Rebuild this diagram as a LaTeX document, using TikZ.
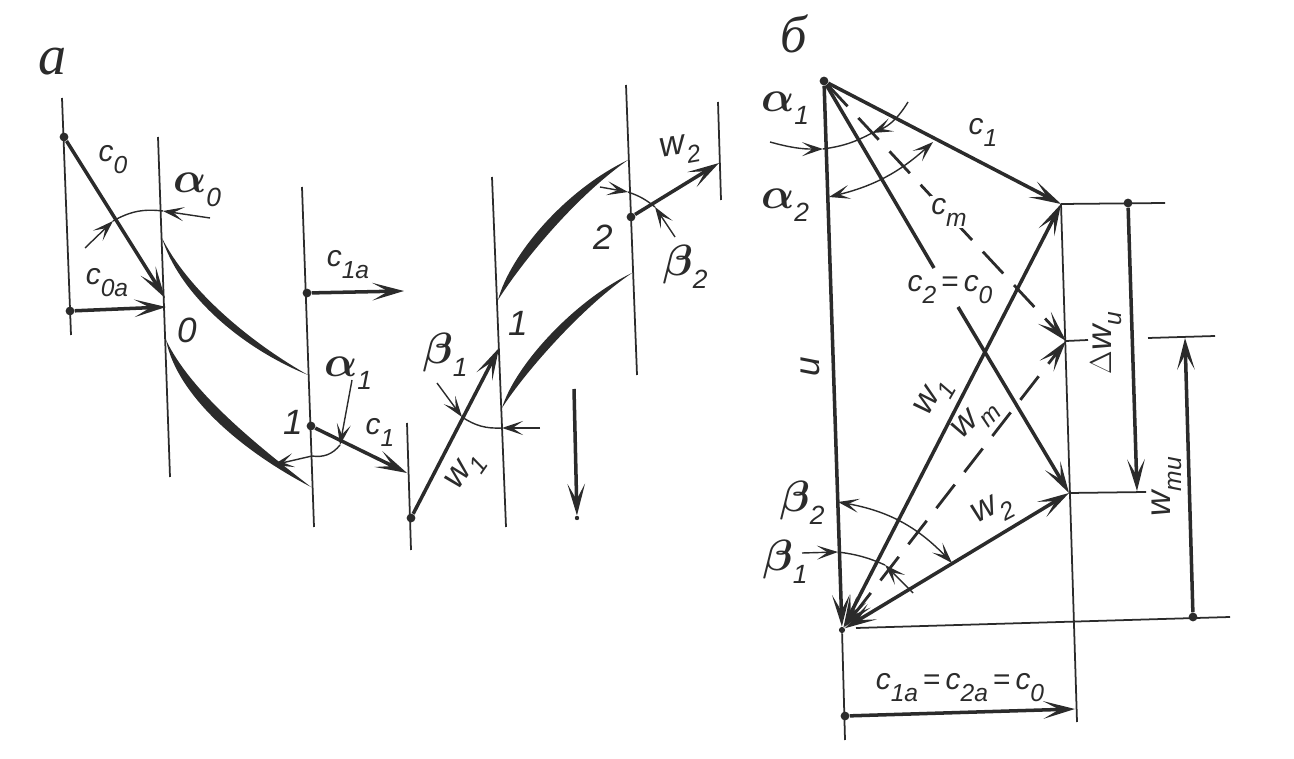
\documentclass[tikz,border=0pt]{standalone}
\usepackage{amsmath}
\usepackage{fontspec}
\setmainfont{Liberation Sans}
\newfontfamily\capfont{Liberation Serif}
\usetikzlibrary{arrows.meta}
\definecolor{ink}{HTML}{2B2B2B}
\newcommand{\lbl}[2]{{\itshape #1\raisebox{-.4em}{\fontsize{14}{14}\selectfont\itshape #2}}}
\newcommand{\lblw}[2]{{\fontsize{20}{20}\selectfont\itshape #1\raisebox{-.3em}{\fontsize{14}{14}\selectfont\itshape #2}}}
\newcommand{\grk}[2]{{\fontsize{25}{25}\selectfont$\boldsymbol{#1}$\raisebox{-.3em}{\fontsize{15}{15}\selectfont\itshape #2}}}
\tikzset{
  plane/.style={line width=1pt},
  vec/.style={->,line width=2pt},
  twovec/.style={<->,line width=2pt},
  dashvec/.style={->,line width=1.6pt,dash pattern=on 17pt off 9pt},
  angarc/.style={line width=.8pt,>={Stealth[length=12pt,width=8pt,inset=6pt]}},
  dotpt/.style={circle,fill=ink,inner sep=0pt,minimum size=5pt},
  txt/.style={inner sep=1pt,font=\fontsize{17}{19}\selectfont},
  num/.style={inner sep=1pt,font=\fontsize{20}{20}\selectfont\itshape},
  blade/.style={fill=ink}
}
\begin{document}
\begin{tikzpicture}[x=0.02cm,y=-0.02cm,color=ink,>={Stealth[length=18pt,width=10pt,inset=9pt]},shorten >=0pt]
\useasboundingbox (0,0) rectangle (1294,759);

\coordinate (p0t) at (62,98);   \coordinate (p0b) at (71,335);
\coordinate (p1t) at (158,137); \coordinate (p1b) at (170,477);
\coordinate (p2t) at (302,187); \coordinate (p2b) at (314,527);
\coordinate (p3t) at (407,423); \coordinate (p3b) at (411,550);
\coordinate (p4t) at (492,177); \coordinate (p4b) at (506,527);
\coordinate (p5t) at (626,85);  \coordinate (p5b) at (637,375);
\coordinate (p6t) at (718,102); \coordinate (p6b) at (721,200);

\node[dotpt] (c0s)  at (64,137)  {};
\node[dotpt] (c0as) at (70,311)  {};
\node[dotpt] (c1as) at (307,293) {};
\node[dotpt] (c1s)  at (311,426) {};
\node[dotpt] (w1s)  at (411,518) {};
\node[dotpt] (w2s)  at (631,217) {};
\coordinate (c0e)  at (165,298);
\coordinate (c0ae) at (166,307);
\coordinate (c1ae) at (404,291);
\coordinate (c1e)  at (407,473);
\coordinate (w1e)  at (499,348);
\coordinate (w2e)  at (719,163);
\coordinate (rots) at (574,389);
\node[dotpt,minimum size=2.5pt] (rote) at (577,518) {};

\path[plane] (p0t) edge (p0b) (p1t) edge (p1b) (p2t) edge (p2b) (p3t) edge (p3b)
(p4t) edge (p4b) (p5t) edge (p5b) (p6t) edge (p6b);
\path[vec] (c0s) edge (c0e)
(c0as) edge (c0ae)
(c1as) edge (c1ae)
(c1s)  edge (c1e)
(w1s)  edge (w1e)
(w2s)  edge (w2e)
(rots) edge (rote);

\fill[blade] (162,238) .. controls (178,290) and (235,345) .. (308,375) .. controls (243,338) and (186,286) .. (162,238);
\fill[blade] (166,340) .. controls (177,395) and (240,450) .. (311,487) .. controls (250,440) and (190,390) .. (166,340);
\fill[blade] (498,300) .. controls (510,255) and (565,190) .. (628,160) .. controls (575,197) and (522,262) .. (498,300);
\fill[blade] (502,408) .. controls (515,365) and (575,300) .. (632,273) .. controls (583,306) and (525,372) .. (502,408);

\coordinate (a0l) at (85,248);  \coordinate (a0m) at (113,221);
\coordinate (a0n) at (163,211); \coordinate (a0r) at (210,218);
\draw[angarc,->] (a0l) -- (a0m);
\draw[angarc] (a0m) to[bend left=18] (a0n);
\draw[angarc,->] (a0r) -- (a0n);
\coordinate (a1t) at (352,380); \coordinate (a1m) at (340,445);
\coordinate (a1n) at (312,456); \coordinate (a1l) at (273,465);
\draw[angarc,->] (a1t) -- (a1m);
\draw[angarc] (a1m) to[bend left=30] (a1n);
\draw[angarc,->] (a1n) -- (a1l);
\coordinate (b1t) at (437,383); \coordinate (b1m) at (462,417);
\coordinate (b1n) at (502,428); \coordinate (b1r) at (540,428);
\draw[angarc,->] (b1t) -- (b1m);
\draw[angarc] (b1m) to[bend right=18] (b1n);
\draw[angarc,->] (b1r) -- (b1n);
\coordinate (b2l) at (600,187); \coordinate (b2m) at (628,192);
\coordinate (b2n) at (655,207); \coordinate (b2b) at (675,237);
\draw[angarc,->] (b2l) -- (b2m);
\draw[angarc] (b2m) to[bend left=10] (b2n);
\draw[angarc,->] (b2b) -- (b2n);

\node[font=\capfont\fontsize{32}{32}\selectfont\itshape,inner sep=0pt] (labA) at (53,62) {a};
\node[txt] (labc0) at (113,160) {\lbl{c}{0}};
\node[txt] (labc0a) at (107,283) {\lbl{c}{0a}};
\node[inner sep=0pt] (laba0) at (197,190) {\grk{\alpha}{0}};
\node[num] (lab0) at (187,330) {0};
\node[txt] (labc1a) at (348,265) {\lbl{c}{1a}};
\node[inner sep=0pt] (laba1) at (348,373) {\grk{\alpha}{1}};
\node[num] (lab1a) at (293,422) {1};
\node[txt] (labc1) at (380,432) {\lbl{c}{1}};
\node[inner sep=0pt] (labb1) at (445,355) {\grk{\beta}{1}};
\node[num] (lab1b) at (518,323) {1};
\node[num] (lab2) at (603,237) {2};
\node[inner sep=0pt] (labb2) at (685,267) {\grk{\beta}{2}};
\node[txt,rotate=10] (labw2) at (680,150) {\lblw{w}{2}};
\node[txt,rotate=55] (labw1) at (466,472) {\lblw{w}{1}};

\node[dotpt] (apex) at (824,81) {};
\node[dotpt,minimum size=3.5pt] (orig) at (842,630) {};
\coordinate (baxb) at (845,740);
\node[dotpt] (caxs) at (845,716) {};
\coordinate (caxe) at (1075,709);
\coordinate (rt) at (1061,204);
\coordinate (rm) at (1066,341);
\coordinate (rb) at (1069,493);
\coordinate (rl) at (1077,722);
\coordinate (topr) at (1165,203);
\node[dotpt] (dws) at (1128,203) {};
\coordinate (dwe) at (1137,491);
\coordinate (botr) at (1146,492);
\coordinate (midr) at (1088,340);
\coordinate (wul) at (1148,338);
\coordinate (wur) at (1215,336);
\coordinate (wue) at (1185,338);
\coordinate (baslft) at (856,628);
\coordinate (basrgt) at (1230,617);
\node[dotpt] (wus) at (1193,617) {};
\coordinate (c2a) at (934,268);
\coordinate (c2b) at (958,307);

\path[plane] (orig) edge (baxb)
(rt) edge (rl)
(rt) edge (topr)
(rb) edge (botr)
(rm) edge (midr)
(wul) edge (wur)
(baslft) edge (basrgt);
\path[vec] (apex) edge (orig)
(apex) edge (rt)
(dws)  edge (dwe)
(wus)  edge (wue)
(caxs) edge (caxe)
(c2b)  edge (rb);
\draw[line width=2pt] (apex) -- (c2a);
\path[twovec] (rt) edge (orig) (orig) edge (rb);
\draw[dashvec,<->] (orig) -- (rm);
\draw[dashvec] (apex) -- (rm);

\coordinate (a1l2) at (770,142); \coordinate (a1v) at (823,149);
\coordinate (a1c) at (872,133);  \coordinate (a1r) at (908,102);
\draw[angarc,->] (a1l2) to[bend right=8] (a1v);
\draw[angarc] (a1v) to[bend right=10] (a1c);
\draw[angarc,->] (a1r) to[bend left=18] (a1c);
\coordinate (a2v) at (829,197); \coordinate (a2c) at (933,142);
\draw[angarc,<->] (a2v) to[bend right=14] (a2c);
\coordinate (b2v) at (838,502); \coordinate (b2c) at (952,563);
\draw[angarc,<->] (b2v) to[bend left=18] (b2c);
\coordinate (b1l2) at (802,553); \coordinate (b1v) at (838,552);
\coordinate (b1c) at (885,565);  \coordinate (b1r) at (913,593);
\draw[angarc,->] (b1l2) -- (b1v);
\draw[angarc] (b1v) to[bend left=8] (b1c);
\draw[angarc,->] (b1r) -- (b1c);

\node[font=\capfont\fontsize{30}{30}\selectfont\itshape,inner sep=0pt] (labB) at (794,34) {б};
\node[inner sep=0pt] (labal1) at (785,108) {\grk{\alpha}{1}};
\node[inner sep=0pt] (labal2) at (785,205) {\grk{\alpha}{2}};
\node[txt] (labrc1) at (983,132) {\lbl{c}{1}};
\node[txt,fill=white] (labcm) at (949,212) {\lbl{c}{m}};
\node[txt] (labc2) at (950,290) {\lbl{c}{2}$\,$=$\,$\lbl{c}{0}};
\node[txt,rotate=90] (labu) at (810,367) {\fontsize{20}{20}\selectfont\itshape u};
\node[txt,rotate=90,fill=white,inner sep=0pt] (labdw) at (1106,343) {$\Delta$\lblw{w}{u}};
\node[txt,rotate=90] (labwu) at (1167,487) {\lblw{w}{mu}};
\node[txt,rotate=60] (labrw1) at (935,398) {\lblw{w}{1}};
\node[txt,rotate=45] (labwm) at (976,420) {\lblw{w}{m}};
\node[txt,rotate=28] (labrw2) at (993,511) {\lblw{w}{2}};
\node[inner sep=0pt] (labbe2) at (802,503) {\grk{\beta}{2}};
\node[inner sep=0pt] (labbe1) at (785,562) {\grk{\beta}{1}};
\node[txt] (labsum) at (960,688) {\lbl{c}{1a}$\,$=$\,$\lbl{c}{2a}$\,$=$\,$\lbl{c}{0}};
\end{tikzpicture}
\end{document}
